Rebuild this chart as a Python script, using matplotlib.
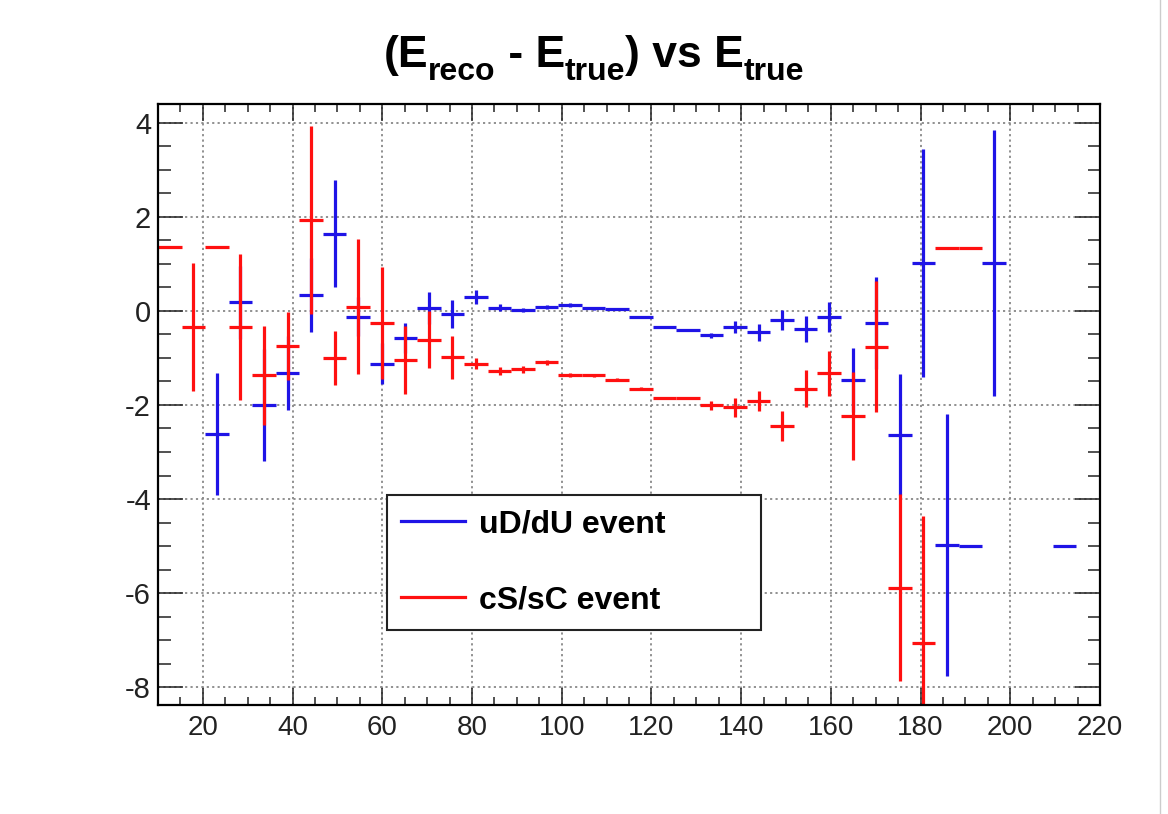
import numpy as np
import matplotlib.pyplot as plt
from matplotlib.lines import Line2D
from matplotlib.ticker import MultipleLocator

plt.rcParams['font.family'] = ['Liberation Sans', 'DejaVu Sans']
plt.rcParams['axes.unicode_minus'] = False

# profile binning: 40 bins between 10 and 220
n_bins = 40
e_lo, e_hi = 10, 220

nan = np.nan
# uD/dU event profile (mean, error), nan = empty bin
ud_mean = [nan, nan, -2.62, 0.18, -2.00, -1.32, 0.34, 1.64, -0.12, -1.12,
           -0.58, 0.06, -0.07, 0.29, 0.07, 0.02, 0.08, 0.12, 0.06, 0.04,
           -0.12, -0.34, -0.41, -0.52, -0.34, -0.45, -0.19, -0.38, -0.13, -1.47,
           -0.25, -2.63, 1.02, -4.98, -5.00, 1.02, nan, nan, -5.00, nan]
ud_err = [0, 0, 1.30, 0.77, 1.20, 0.79, 0.78, 1.14, 0.41, 0.43,
          0.32, 0.34, 0.30, 0.15, 0.07, 0.05, 0.04, 0.04, 0.03, 0.03,
          0.0, 0.02, 0.02, 0.05, 0.13, 0.18, 0.22, 0.27, 0.32, 0.68,
          0.98, 1.29, 2.43, 2.78, 0.0, 2.82, 0, 0, 0.0, 0]

# cS/sC event profile
cs_mean = [1.36, -0.34, 1.36, -0.34, -1.37, -0.75, 1.93, -1.00, 0.09, -0.25,
           -1.04, -0.61, -0.99, -1.12, -1.28, -1.24, -1.09, -1.37, -1.37, -1.46,
           -1.65, -1.86, -1.86, -2.01, -2.05, -1.91, -2.45, -1.65, -1.33, -2.23,
           -0.76, -5.89, -7.07, 1.34, 1.34, nan, nan, nan, nan, nan]
cs_err = [0.0, 1.37, 0.0, 1.55, 1.05, 0.72, 2.00, 0.58, 1.43, 1.19,
          0.73, 0.61, 0.45, 0.12, 0.08, 0.07, 0.05, 0.04, 0.03, 0.03,
          0.03, 0.0, 0.0, 0.10, 0.20, 0.21, 0.32, 0.40, 0.48, 0.93,
          1.39, 1.99, 2.70, 0.0, 0.0, 0, 0, 0, 0, 0]

edges = np.linspace(e_lo, e_hi, n_bins + 1)
centers = 0.5 * (edges[:-1] + edges[1:])
half_w = 0.5 * (edges[1] - edges[0])

fig = plt.figure(figsize=(11.68, 8.14), dpi=100)
ax = fig.add_axes([0.1353, 0.1339, 0.8065, 0.7383])

series = [(ud_mean, ud_err, '#1f14e6', 'uD/dU event'),
          (cs_mean, cs_err, '#ff1010', 'cS/sC event')]
handles = []
for mean, err, col, lab in series:
    mean = np.array(mean)
    err = np.array(err)
    ok = ~np.isnan(mean)
    ax.errorbar(centers[ok], mean[ok], xerr=half_w, yerr=err[ok], fmt='none',
                ecolor=col, elinewidth=2.3, capsize=0)
    handles.append(Line2D([], [], color=col, linewidth=2.3, label=lab))

ax.set_xlim(e_lo, e_hi)
ax.set_ylim(-8.38, 4.4)
ax.xaxis.set_major_locator(MultipleLocator(20))
ax.xaxis.set_minor_locator(MultipleLocator(5))
ax.yaxis.set_major_locator(MultipleLocator(2))
ax.yaxis.set_minor_locator(MultipleLocator(0.5))
ax.set_yticks([4, 2, 0, -2, -4, -6, -8])

ax.grid(True, which='major', color='#888888', linestyle=(0, (1.2, 1.8)), linewidth=1.3)
ax.set_axisbelow(True)
for s in ax.spines.values():
    s.set_linewidth(1.6)

ax.tick_params(which='both', direction='in', top=True, right=True, width=1.1, colors='#222222')
ax.tick_params(axis='y', which='major', length=18, labelsize=21, pad=5)
ax.tick_params(axis='y', which='minor', length=9)
ax.tick_params(axis='x', which='major', length=12, labelsize=20, pad=7)
ax.tick_params(axis='x', which='minor', length=6)

leg = ax.legend(handles=handles, loc='lower left', bbox_to_anchor=(0.2428, 0.1248, 0.397, 0.241),
                mode='expand', borderaxespad=0, fancybox=False, framealpha=1,
                edgecolor='#222222', prop={'weight': 'bold', 'size': 23},
                handlelength=2.0, handletextpad=0.45, labelspacing=1.45, borderpad=0.45)
leg.get_frame().set_linewidth(1.5)

# title built piece by piece so the subscripts sit low, as in the original
title_parts = [('(E', 32, 0), ('reco', 23, -13), (' - E', 32, 0), ('true', 23, -13),
               (') vs E', 32, 0), ('true', 23, -13)]
renderer = fig.canvas.get_renderer()
widths = []
for txt, size, dy in title_parts:
    t = fig.text(0, 0, txt, fontsize=size, fontweight='bold')
    widths.append(t.get_window_extent(renderer).width)
    t.remove()
x_px = 594 - sum(widths) / 2
base_px = 814 - 67
for (txt, size, dy), w in zip(title_parts, widths):
    fig.text(x_px / 1168, (base_px + dy) / 814, txt, fontsize=size, fontweight='bold',
             va='baseline', ha='left')
    x_px += w

fig.add_artist(Line2D([1160 / 1168, 1160 / 1168], [0, 1], transform=fig.transFigure,
                      color='#cccccc', linewidth=1))

fig.savefig('out.png', dpi=100)
